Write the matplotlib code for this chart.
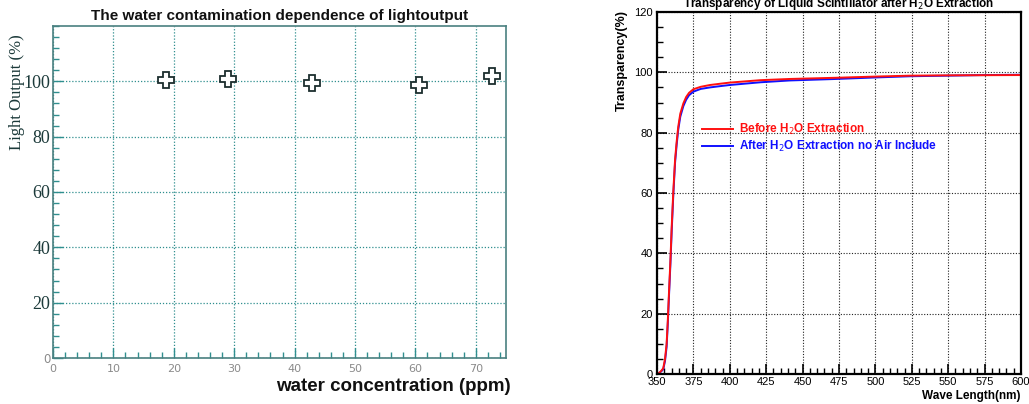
import matplotlib
matplotlib.use("Agg")
import matplotlib.pyplot as plt
from matplotlib.ticker import MultipleLocator

# ---- Left panel data ----
water_ppm = [18.7, 29.0, 42.9, 60.6, 72.7]
light_output = [100.4, 101.0, 99.5, 98.8, 102.0]
left_xticks = [0, 10, 20, 30, 40, 50, 60, 70]
left_yticks = [0, 20, 40, 60, 80, 100]

# ---- Right panel data ----
wavelength = [350, 351, 352, 353, 354.3, 355.5, 356.6, 357.4, 358.2, 359.2, 360.1, 361.2,
              362.4, 363.5, 364.6, 366, 368.1, 370, 372, 375, 380,
              386.4, 393, 400, 421, 441, 473, 500, 524, 550, 575, 600]
trans_before = [0.0, 0.2, 0.6, 1.1, 1.9, 5.0, 10.0, 17.5, 26.7, 37.5, 48.8, 60.5,
                71.0, 77.0, 82.0, 86.3, 89.7, 91.8, 93.2, 94.4, 95.2,
                95.8, 96.2, 96.6, 97.4, 97.8, 98.2, 98.6, 98.9, 99.0, 99.05, 99.1]
trans_after = [0.0, 0.2, 0.5, 0.9, 1.6, 4.3, 9.0, 16.5, 25.5, 36.3, 47.5, 59.3,
               70.0, 76.0, 81.0, 85.3, 88.8, 90.9, 92.4, 93.6, 94.5,
               95.0, 95.4, 95.8, 96.7, 97.3, 97.8, 98.3, 98.7, 98.9, 99.1, 99.2]
right_xticks = [350, 375, 400, 425, 450, 475, 500, 525, 550, 575, 600]
right_yticks = [0, 20, 40, 60, 80, 100, 120]

fig = plt.figure(figsize=(10.29, 4.04), dpi=100)

# ================= Left panel =================
teal = "#2f8f8f"
axL = fig.add_axes([53/1029, 1-358/404, 453/1029, 332/404])
axL.set_xlim(0, 75)
axL.set_ylim(0, 120)
axL.plot(water_ppm, light_output, linestyle="none", marker="P", markersize=11,
         markerfacecolor="white", markeredgecolor="#1c2e2e", markeredgewidth=1.3, zorder=5)
axL.set_xticks(left_xticks)
axL.set_yticks(left_yticks)
axL.xaxis.set_minor_locator(MultipleLocator(2))
axL.yaxis.set_minor_locator(MultipleLocator(4))
axL.grid(True, which="major", color=teal, linestyle=(0, (1, 1.5)), linewidth=0.9)
axL.tick_params(which="both", direction="in", color=teal, top=False, right=False)
axL.tick_params(which="major", length=7, width=1)
axL.tick_params(which="minor", length=4, width=1)
for s in axL.spines.values():
    s.set_color("#4a8080")
    s.set_linewidth(1.2)
axL.set_xticklabels([str(v) for v in left_xticks], fontsize=8, color="#8a8a8a",
                    fontfamily="DejaVu Sans")
ylabs = axL.set_yticklabels([str(v) for v in left_yticks], fontsize=13,
                            color="#1c3a3a", fontfamily="Liberation Serif")
ylabs[0].set_fontfamily("DejaVu Sans")
ylabs[0].set_fontsize(8.5)
ylabs[0].set_color("#8a8a8a")
axL.tick_params(axis="x", pad=4)
axL.tick_params(axis="y", pad=2)
axL.set_title("The water contamination dependence of lightoutput",
              fontsize=11, fontweight="bold", fontfamily="Liberation Sans",
              color="#111", pad=4)
axL.set_ylabel("Light Output (%)", fontsize=12, fontfamily="Liberation Serif",
               color="#1c3a3a")
axL.yaxis.set_label_coords(-0.062, 0.80)
axL.set_xlabel("water concentration (ppm)", fontsize=13.5, fontweight="bold",
               fontfamily="Liberation Sans", color="#111")
axL.xaxis.set_label_coords(1.01, -0.06)
axL.xaxis.label.set_horizontalalignment("right")

# ================= Right panel =================
axR = fig.add_axes([657/1029, 1-374/404, 364/1029, 362/404])
axR.set_xlim(350, 600)
axR.set_ylim(0, 120)
lb, = axR.plot(wavelength, trans_after, color="#1010ff", linewidth=1.4)
lr, = axR.plot(wavelength, trans_before, color="#ff1010", linewidth=1.4)
axR.set_xticks(right_xticks)
axR.set_yticks(right_yticks)
axR.xaxis.set_minor_locator(MultipleLocator(5))
axR.yaxis.set_minor_locator(MultipleLocator(5))
axR.grid(True, which="major", color="#222", linestyle=(0, (1, 1.5)), linewidth=0.8)
axR.tick_params(which="both", direction="in", color="black", top=False, right=False)
axR.tick_params(which="major", length=7, width=1.2)
axR.tick_params(which="minor", length=4, width=1)
for s in axR.spines.values():
    s.set_color("black")
    s.set_linewidth(1.6)
axR.set_xticklabels([str(v) for v in right_xticks], fontsize=8, fontfamily="Liberation Sans")
axR.set_yticklabels([str(v) for v in right_yticks], fontsize=8, fontfamily="Liberation Sans")
axR.tick_params(axis="x", pad=2)
axR.tick_params(axis="y", pad=3)
axR.set_title("Transparency of Liquid Scintillator after H$_2$O Extraction",
              fontsize=8.5, fontweight="bold", fontfamily="Liberation Sans", pad=1)
axR.set_ylabel("Transparency(%)", fontsize=9, fontweight="bold",
               fontfamily="Liberation Sans")
axR.yaxis.set_label_coords(-0.08, 0.865)
axR.set_xlabel("Wave Length(nm)", fontsize=8.5, fontweight="bold",
               fontfamily="Liberation Sans")
axR.xaxis.set_label_coords(1.0, -0.045)
axR.xaxis.label.set_horizontalalignment("right")

leg = axR.legend([lr, lb],
                 ["Before H$_2$O Extraction", "After H$_2$O Extraction no Air Include"],
                 loc="upper left", bbox_to_anchor=(0.095, 0.725), frameon=False,
                 handlelength=2.6, handletextpad=0.5, labelspacing=0.15,
                 prop={"family": "Liberation Sans", "weight": "bold", "size": 8.5})
for t, c in zip(leg.get_texts(), ["#ff1010", "#1010ff"]):
    t.set_color(c)

fig.savefig("out.png", dpi=100)
